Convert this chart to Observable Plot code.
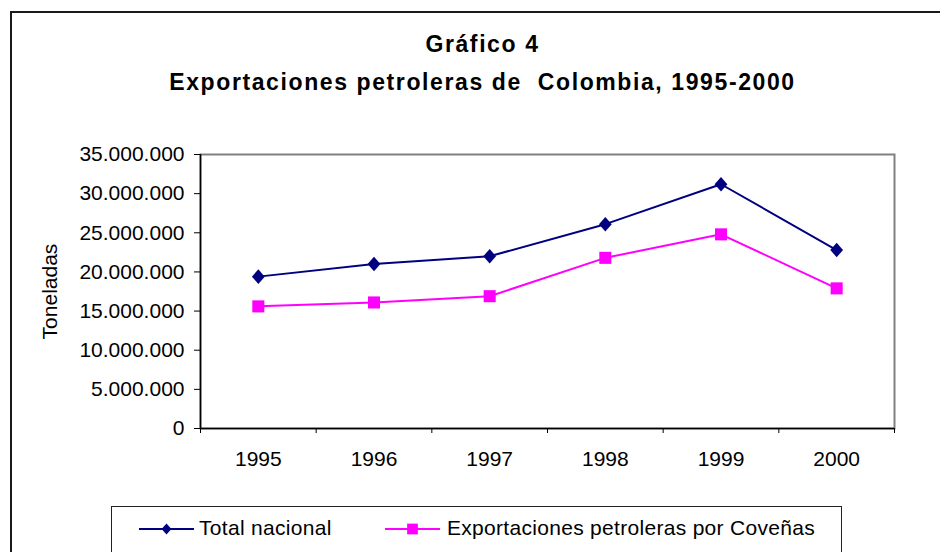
<!DOCTYPE html>
<html><head><meta charset="utf-8">
<script src="https://cdn.jsdelivr.net/npm/d3@7"></script>
<script src="https://cdn.jsdelivr.net/npm/@observablehq/plot@0.6"></script>
<style>
body{margin:0;background:#fff;font-family:"Liberation Sans",Arial,sans-serif;color:#000}
#page{position:relative;width:940px;height:552px;overflow:hidden;background:#fff}
#frame{position:absolute;left:10px;top:11px;width:960px;height:600px;border:2px solid #1a1a1a;box-sizing:border-box}
.t{position:absolute;left:0;width:965px;text-align:center;font-weight:bold;font-size:23px;line-height:23px;letter-spacing:1.6px;white-space:pre}
#chart{position:absolute;left:0;top:140px}
#legend{position:absolute;left:111px;top:506px;width:731px;height:80px;border:1px solid #222;box-sizing:border-box}
.sw{position:absolute}
.lt{position:absolute;font-size:21px;line-height:21px;letter-spacing:0.3px;white-space:pre}
</style></head>
<body>
<div id="page">
  <div id="frame"></div>
  <div class="t" id="t1" style="top:32.5px"></div>
  <div class="t" id="t2" style="top:70.5px"></div>
  <div id="chart"></div>
  <div id="legend"></div>
</div>
<script>
const titleLine1 = "Gráfico 4";
const titleLine2 = "Exportaciones petroleras de  Colombia, 1995-2000";
const yLabel = "Toneladas";
const years = ["1995", "1996", "1997", "1998", "1999", "2000"];
const seriesNames = ["Total nacional", "Exportaciones petroleras por Coveñas"];
const totalNacional = [19400000, 21000000, 22000000, 26100000, 31200000, 22800000];
const covenas = [15600000, 16100000, 16900000, 21800000, 24800000, 17900000];
const yTicks = [0, 5000000, 10000000, 15000000, 20000000, 25000000, 30000000, 35000000];
const colors = ["#000080", "#FF00FF"];

document.getElementById("t1").textContent = titleLine1;
document.getElementById("t2").textContent = titleLine2;

// Excel-like rhombus marker (slightly taller than wide)
const rhombus = {
  draw(context, size) {
    const h = Math.sqrt(size) * 0.62;
    const w = h * 0.88;
    context.moveTo(0, -h);
    context.lineTo(w, 0);
    context.lineTo(0, h);
    context.lineTo(-w, 0);
    context.closePath();
  }
};

const xNum = years.map(Number);
const boundaries = d3.range(xNum.length + 1).map(i => xNum[0] - 0.5 + i);
const rowsTotal = years.map((y, i) => ({year: +y, value: totalNacional[i]}));
const rowsCov = years.map((y, i) => ({year: +y, value: covenas[i]}));

const esFmt = d3.formatLocale({decimal: ",", thousands: ".", grouping: [3], currency: ["", ""]}).format(",.0f");

const chart = Plot.plot({
  width: 940,
  height: 340,
  marginTop: 14,
  marginBottom: 52,
  marginLeft: 200,
  marginRight: 46,
  style: {fontFamily: "'Liberation Sans', Arial, sans-serif", fontSize: "21px", color: "#000", background: "transparent"},
  x: {type: "linear", domain: [boundaries[0], boundaries[boundaries.length - 1]]},
  y: {domain: [yTicks[0], yTicks[yTicks.length - 1]]},
  marks: [
    Plot.frame({stroke: "#808080", strokeWidth: 2}),
    Plot.axisY(yTicks, {tickSize: 6, tickPadding: 10, tickFormat: esFmt, fontSize: 21,
      label: yLabel, labelAnchor: "center", labelOffset: 158, labelArrow: "none"}),
    Plot.axisX(boundaries, {tickSize: 5, tickFormat: () => "", label: null}),
    Plot.axisX(xNum, {tickSize: 0, tickPadding: 23, tickFormat: d => String(d), fontSize: 21, label: null}),
    Plot.ruleX([boundaries[0]], {stroke: "#000", strokeWidth: 1.5}),
    Plot.ruleY([yTicks[0]], {stroke: "#000", strokeWidth: 1.5}),
    Plot.line(rowsCov, {x: "year", y: "value", stroke: colors[1], strokeWidth: 2}),
    Plot.dot(rowsCov, {x: "year", y: "value", symbol: "square", r: 6.8, fill: colors[1], stroke: "none"}),
    Plot.line(rowsTotal, {x: "year", y: "value", stroke: colors[0], strokeWidth: 2}),
    Plot.dot(rowsTotal, {x: "year", y: "value", symbol: rhombus, r: 6.6, fill: colors[0], stroke: "none"})
  ]
});
document.getElementById("chart").appendChild(chart);

// Legend
const legend = document.getElementById("legend");
const items = [
  {name: seriesNames[0], color: colors[0], symbol: rhombus, size: 80, left: 27, textLeft: 87},
  {name: seriesNames[1], color: colors[1], symbol: d3.symbolSquare, size: 115, left: 273, textLeft: 335}
];
items.forEach(it => {
  const svg = d3.create("svg").attr("class", "sw").attr("width", 56).attr("height", 16)
    .style("left", it.left + "px").style("top", "14px");
  svg.append("line").attr("x1", 0).attr("x2", 55).attr("y1", 8).attr("y2", 8)
    .attr("stroke", it.color).attr("stroke-width", 2);
  svg.append("path").attr("d", d3.symbol(it.symbol, it.size)()).attr("transform", "translate(27.5,8)")
    .attr("fill", it.color);
  legend.appendChild(svg.node());
  const t = document.createElement("div");
  t.className = "lt";
  t.style.left = it.textLeft + "px";
  t.style.top = "10px";
  t.textContent = it.name;
  legend.appendChild(t);
});
</script>
</body></html>
